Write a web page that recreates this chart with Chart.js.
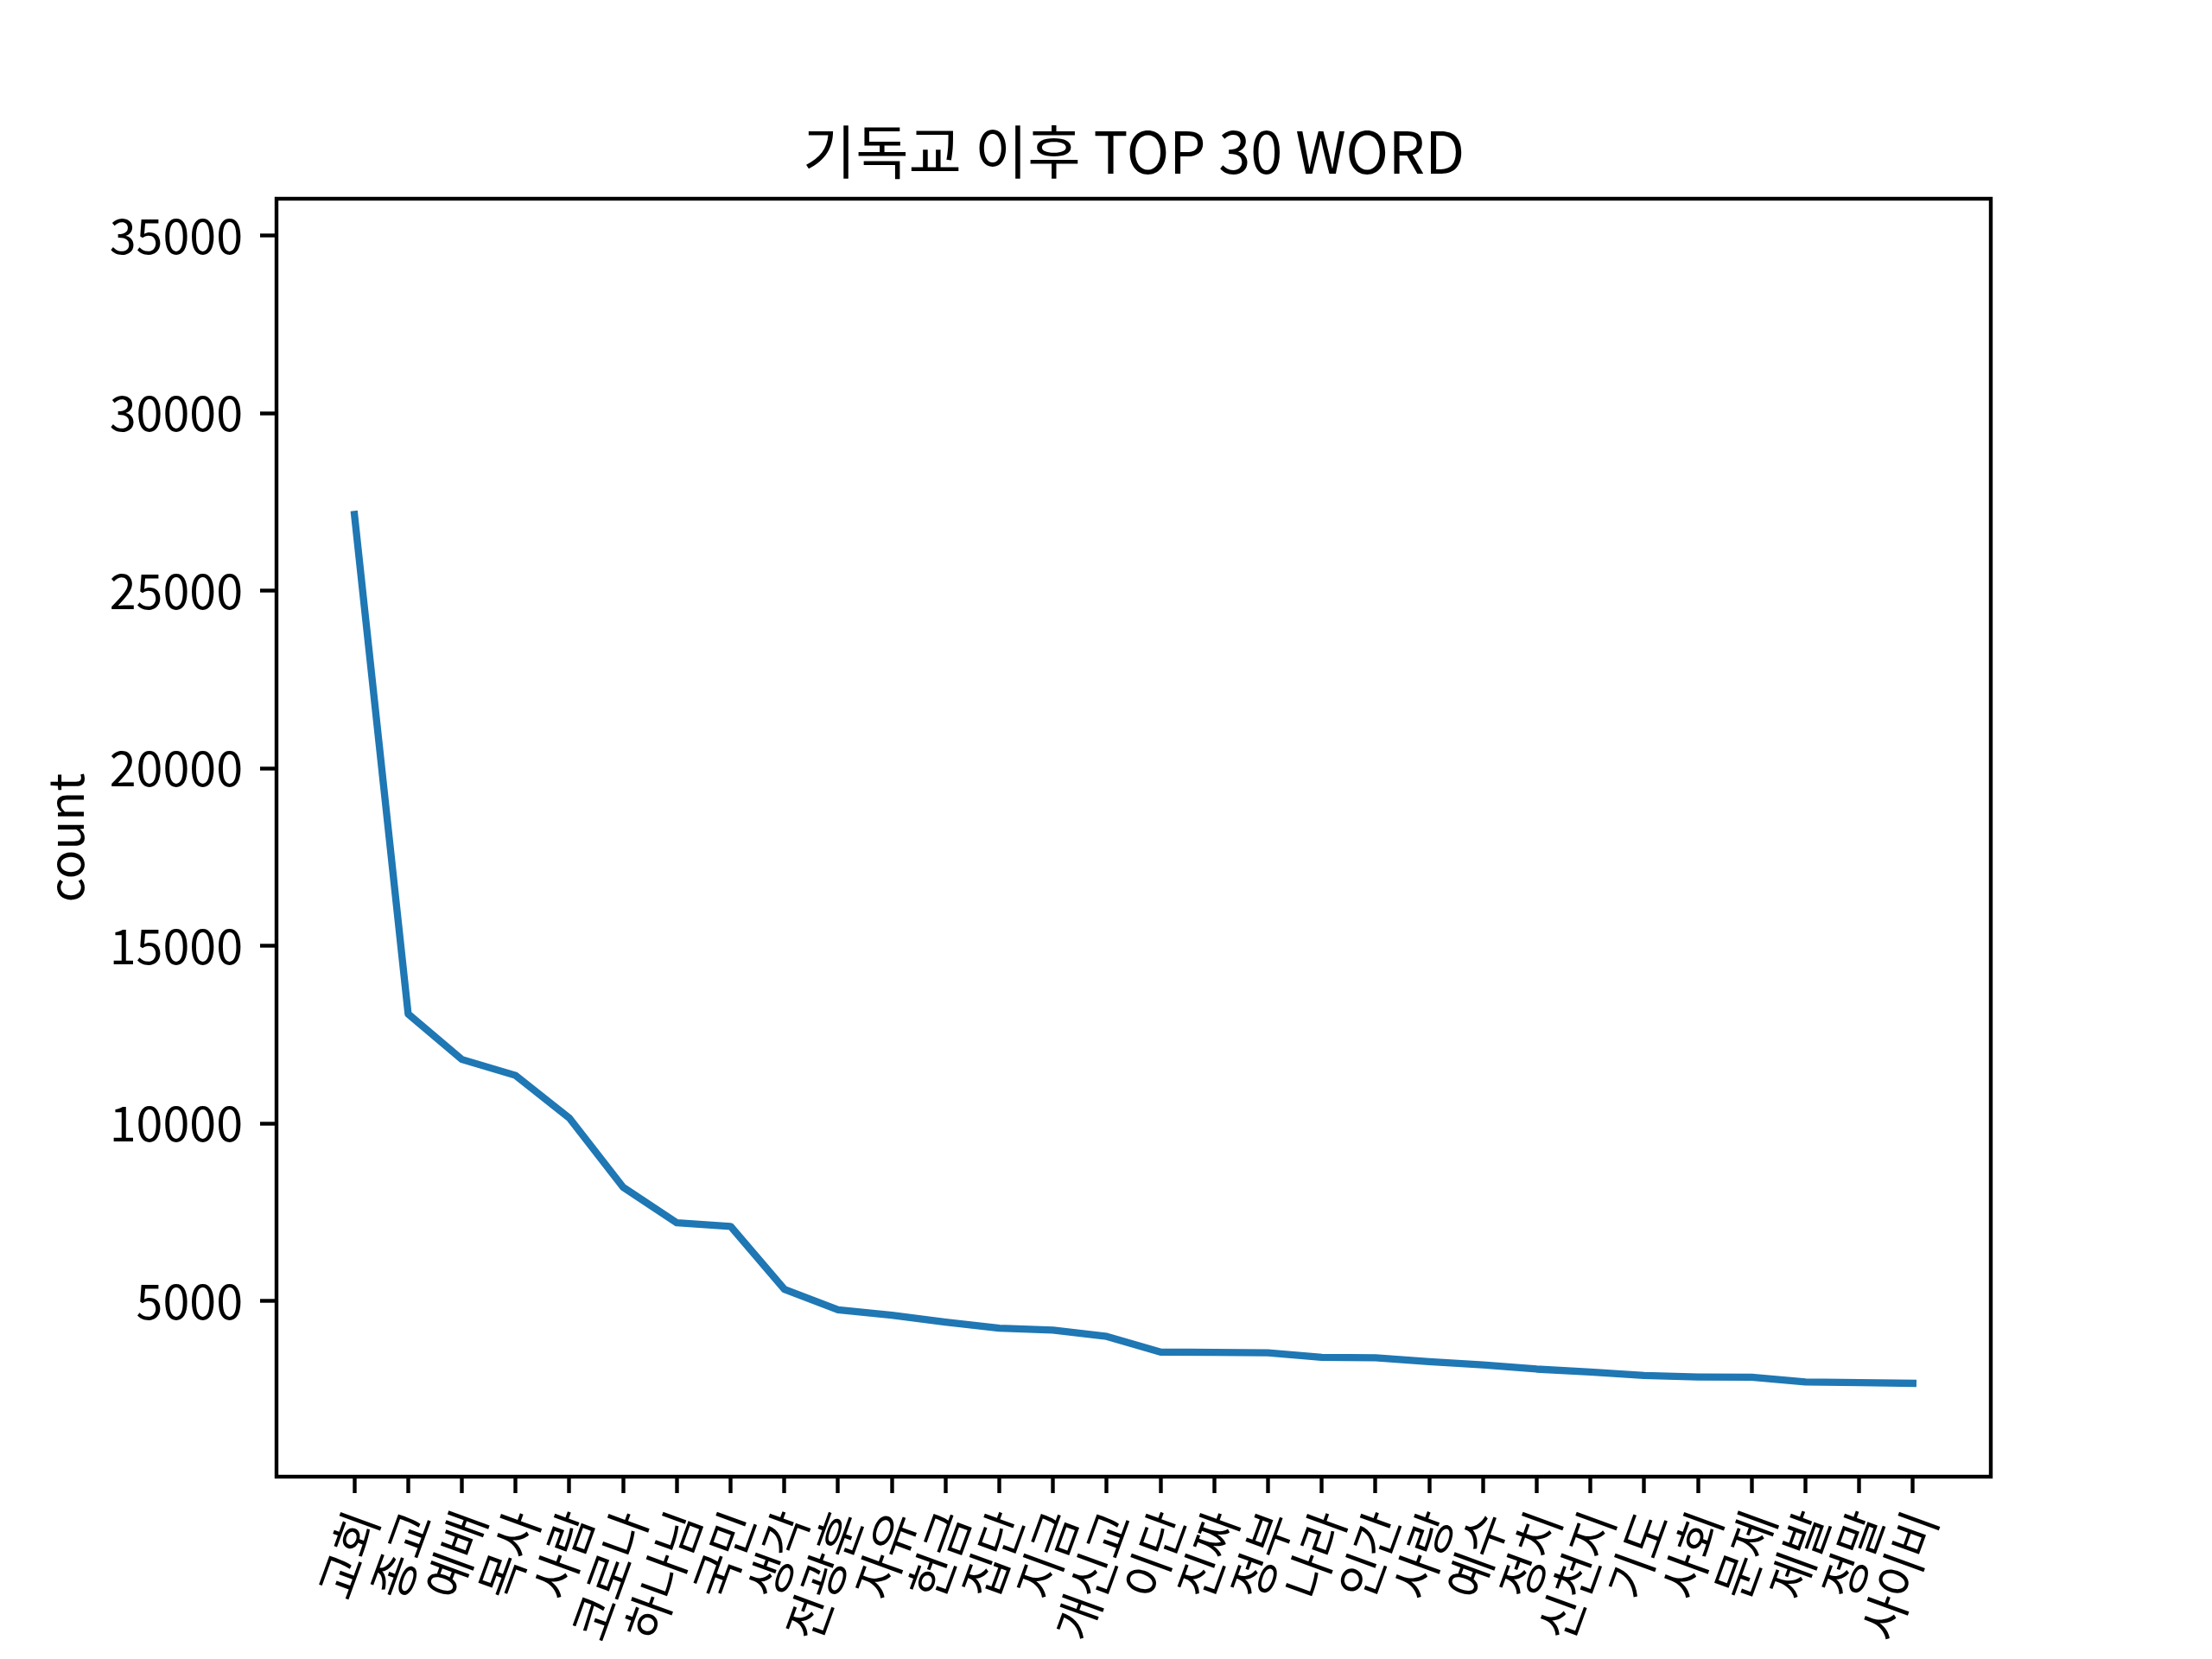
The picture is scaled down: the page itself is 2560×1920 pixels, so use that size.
<!DOCTYPE html>
<html>
<head>
<meta charset="utf-8">
<script src="https://cdn.jsdelivr.net/npm/chart.js@4/dist/chart.umd.min.js"></script>
<style>
  html, body { margin: 0; padding: 0; background: #fff; }
  #wrap { width: 2560px; height: 1920px; }
</style>
</head>
<body>
<div id="wrap"><canvas id="chart" width="2560" height="1920"></canvas></div>
<script>
// words (x axis) and their counts
const words = ['교회', '종교', '예배', '목사', '사람', '코로나', '하나님', '국민', '생각', '전광훈',
  '자유', '헌금', '집단', '지금', '개신교', '이단', '진짜', '정부', '나라', '인간',
  '사랑', '예수', '정치', '신천지', '기도', '사회', '문제', '제발', '정말', '사이비'];
const counts = [27150, 13080, 11800, 11350, 10150, 8200, 7200, 7100, 5330, 4750,
  4600, 4400, 4230, 4180, 4000, 3560, 3550, 3540, 3410, 3400,
  3290, 3200, 3080, 3000, 2900, 2860, 2850, 2720, 2700, 2680];
const yTicks = [5000, 10000, 15000, 20000, 25000, 30000, 35000];
const titleText = '기독교 이후 TOP 30 WORD';

const FONT = "'Noto Sans CJK KR', 'Noto Sans', sans-serif";

// frame around the axes + title centred over the plot area (matplotlib style)
const framePlugin = {
  id: 'frame',
  afterDraw(chart) {
    const { ctx, chartArea: a } = chart;
    ctx.save();
    ctx.strokeStyle = '#000';
    ctx.lineWidth = 4.4;
    ctx.strokeRect(a.left, a.top, a.right - a.left, a.bottom - a.top);
    ctx.fillStyle = '#000';
    ctx.font = '66.7px ' + FONT;
    ctx.textAlign = 'center';
    ctx.textBaseline = 'middle';
    ctx.fillText(titleText, (a.left + a.right) / 2, 176);
    ctx.restore();
  }
};

const ctx = document.getElementById('chart').getContext('2d');
new Chart(ctx, {
  type: 'line',
  data: {
    datasets: [{
      data: counts.map((c, i) => ({ x: i, y: c })),
      borderColor: '#1f77b4',
      borderWidth: 8.3,
      borderCapStyle: 'square',
      borderJoinStyle: 'round',
      pointRadius: 0,
      tension: 0,
      fill: false
    }]
  },
  plugins: [framePlugin],
  options: {
    responsive: false,
    animation: false,
    devicePixelRatio: 1,
    layout: { padding: { left: 0, right: 256, top: 230, bottom: 0 } },
    plugins: {
      legend: { display: false },
      tooltip: { enabled: false },
      title: { display: false }
    },
    scales: {
      x: {
        type: 'linear',
        min: -1.45,
        max: 30.45,
        afterBuildTicks: s => { s.ticks = words.map((_, i) => ({ value: i })); },
        afterFit: s => { s.height = 211; },
        grid: { display: true, drawOnChartArea: false, drawTicks: true, tickLength: 19, tickWidth: 4.4, tickColor: '#000' },
        border: { display: false },
        ticks: {
          autoSkip: false,
          minRotation: 70,
          maxRotation: 70,
          padding: 12,
          labelOffset: 10,
          color: '#000',
          font: { family: FONT, size: 55.6 },
          callback: v => words[v]
        }
      },
      y: {
        min: 50,
        max: 36040,
        afterBuildTicks: s => { s.ticks = yTicks.map(v => ({ value: v })); },
        afterFit: s => { s.width = 320; },
        grid: { display: true, drawOnChartArea: false, drawTicks: true, tickLength: 19, tickWidth: 4.4, tickColor: '#000' },
        border: { display: false },
        title: {
          display: true,
          text: 'count',
          color: '#000',
          font: { family: FONT, size: 55.6 },
          padding: { top: 43, bottom: 0 }
        },
        ticks: {
          padding: 20,
          color: '#000',
          font: { family: FONT, size: 55.6 },
          callback: v => String(v)
        }
      }
    }
  }
});
</script>
</body>
</html>
